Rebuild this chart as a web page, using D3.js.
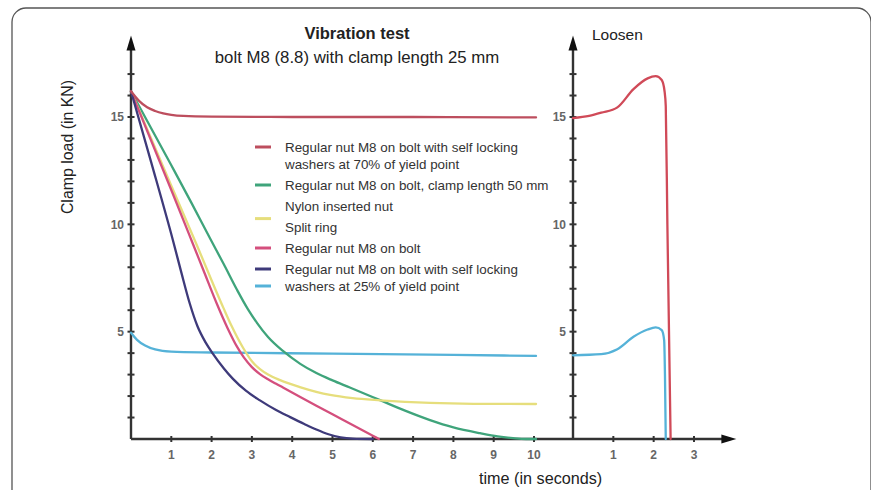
<!DOCTYPE html>
<html>
<head>
<meta charset="utf-8">
<script src="https://cdn.jsdelivr.net/npm/d3@7"></script>
<style>
  html, body { margin: 0; padding: 0; background: #fff; }
  svg { display: block; font-family: "Liberation Sans", Arial, sans-serif; }
</style>
</head>
<body>
<svg id="chart" width="871" height="490"></svg>
<script>
// Vibration test curves: [time (s), clamp load (kN)]
const washers70 = [[0,16.2],[0.2,15.75],[0.4,15.45],[0.6,15.28],[0.8,15.17],[1.0,15.1],[1.3,15.05],[2,15.02],[4,15.0],[7,15.0],[10.05,14.98]];
const clamp50 = [[0,16.2],[1,12.75],[1.5,11.0],[1.96,9.35],[2.3,8.15],[2.63,6.95],[2.9,6.05],[3.13,5.4],[3.4,4.75],[3.77,4.1],[4.2,3.5],[4.6,3.07],[5.0,2.73],[5.43,2.4],[6.18,1.81],[6.8,1.32],[7.42,0.88],[8.0,0.54],[8.66,0.27],[9.1,0.12],[9.48,0.04],[9.8,0],[10.05,0]];
const splitRing = [[0,16.2],[1,11.8],[1.64,9.0],[2.29,6.12],[2.5,5.25],[2.78,4.25],[3.0,3.62],[3.2,3.25],[3.4,3.0],[3.7,2.74],[4.19,2.42],[4.94,2.05],[5.5,1.9],[6.18,1.8],[7.42,1.68],[8.5,1.64],[10.05,1.63]];
const regularNut = [[0,16.2],[1,11.6],[1.5,9.26],[1.8,7.85],[2.13,6.3],[2.4,5.15],[2.63,4.3],[2.8,3.8],[3.0,3.35],[3.2,3.02],[3.4,2.78],[3.6,2.57],[3.77,2.4],[4.6,1.55],[5.0,1.15],[5.5,0.65],[6.0,0.15],[6.15,0]];
const lockingWasherNut = [[0,16.2],[0.5,12.9],[1.04,9.26],[1.25,7.75],[1.46,6.3],[1.65,5.25],[1.85,4.5],[2.03,3.98],[2.3,3.3],[2.53,2.8],[2.85,2.25],[3.2,1.8],[3.6,1.35],[3.95,1.02],[4.3,0.7],[4.6,0.44],[4.9,0.22],[5.2,0.08],[5.5,0.02],[6.0,0]];
const washers25 = [[0,4.95],[0.15,4.62],[0.35,4.35],[0.6,4.17],[1,4.07],[2,4.03],[5,3.98],[8,3.92],[10.05,3.87]];

// Loosening curves
const loosen70 = [[0,14.95],[0.4,15.05],[0.7,15.2],[1.1,15.45],[1.5,16.3],[1.85,16.8],[2.05,16.9],[2.2,16.72],[2.27,16.2],[2.3,15.5],[2.34,10],[2.42,0]];
const loosen25 = [[0,3.9],[0.7,3.95],[1.1,4.18],[1.5,4.76],[1.85,5.1],[2.05,5.2],[2.2,5.07],[2.26,4.6],[2.28,3.0],[2.3,0]];

const loadTicks = d3.range(1, 18);
const loadTickLabels = [5, 10, 15];
const timeTicks = d3.range(1, 11);
const loosenTimeTicks = [1, 2, 3];

const legendLines = [
  "Regular nut M8 on bolt with self locking",
  "washers at 70% of yield point",
  "Regular nut M8 on bolt, clamp length 50 mm",
  "Nylon inserted nut",
  "Split ring",
  "Regular nut M8 on bolt",
  "Regular nut M8 on bolt with self locking",
  "washers at 25% of yield point"
];
const legendContinued = [false, true, false, false, false, false, false, true];

const colors = {
  washers70: "#bd4e5e",
  clamp50: "#3fa47b",
  splitRing: "#e6de7c",
  regularNut: "#d44f7d",
  lockingWasherNut: "#3e3a7a",
  washers25: "#55b2d8"
};
// legend swatch: colour and the legend row it sits on
const legendSwatches = [
  { color: colors.washers70, row: 0 },
  { color: colors.clamp50, row: 2 },
  { color: colors.splitRing, row: 3.6 },
  { color: colors.regularNut, row: 5 },
  { color: colors.lockingWasherNut, row: 6 },
  { color: colors.washers25, row: 7 }
];

const svg = d3.select("#chart");

// frame
svg.append("rect")
  .attr("x", 12).attr("y", 8).attr("width", 859).attr("height", 520)
  .attr("rx", 14).attr("fill", "none").attr("stroke", "#555").attr("stroke-width", 1.3);

const y = d3.scaleLinear().domain([0, 15]).range([439, 117]);
const xL = d3.scaleLinear().domain([0, 10]).range([131, 534]);
const xR = d3.scaleLinear().domain([0, 3]).range([573, 694]);

const axisColor = "#333";
const yTop = 18.8;

// axis lines
const g = svg.append("g");
g.append("line").attr("x1", xL(0)).attr("x2", xL(0)).attr("y1", y(0)).attr("y2", y(yTop) + 6)
  .attr("stroke", axisColor).attr("stroke-width", 2.4);
g.append("line").attr("x1", xR(0)).attr("x2", xR(0)).attr("y1", y(0)).attr("y2", y(yTop) + 6)
  .attr("stroke", axisColor).attr("stroke-width", 2.4);
g.append("line").attr("x1", xL(0)).attr("x2", xR(4.05) - 6).attr("y1", y(0)).attr("y2", y(0))
  .attr("stroke", axisColor).attr("stroke-width", 2.4);

// arrowheads
function upArrow(x) {
  const t = y(yTop);
  return `M${x},${t} L${x - 4.5},${t + 15} L${x + 4.5},${t + 15} Z`;
}
g.append("path").attr("d", upArrow(xL(0))).attr("fill", "#111");
g.append("path").attr("d", upArrow(xR(0))).attr("fill", "#111");
const tipX = xR(4.05);
g.append("path").attr("d", `M${tipX},${y(0)} L${tipX - 15},${y(0) - 4.5} L${tipX - 15},${y(0) + 4.5} Z`).attr("fill", "#111");

// ticks on the load axes
[xL(0), xR(0)].forEach(ax => {
  g.selectAll(null).data(loadTicks).enter().append("line")
    .attr("x1", ax - 3.5).attr("x2", ax + 3.5)
    .attr("y1", d => y(d)).attr("y2", d => y(d))
    .attr("stroke", axisColor).attr("stroke-width", 2);
});
// ticks on the time axes
g.selectAll(null).data(timeTicks).enter().append("line")
  .attr("x1", d => xL(d)).attr("x2", d => xL(d))
  .attr("y1", y(0) - 3).attr("y2", y(0) + 3)
  .attr("stroke", axisColor).attr("stroke-width", 2);
g.selectAll(null).data(loosenTimeTicks).enter().append("line")
  .attr("x1", d => xR(d)).attr("x2", d => xR(d))
  .attr("y1", y(0) - 3).attr("y2", y(0) + 3)
  .attr("stroke", axisColor).attr("stroke-width", 2);

// tick labels
const tickStyle = sel => sel.attr("font-size", 12).attr("font-weight", "bold").attr("fill", "#666");
[xL(0), xR(0)].forEach(ax => {
  g.selectAll(null).data(loadTickLabels).enter().append("text")
    .attr("x", ax - 7).attr("y", d => y(d) + 4.3)
    .attr("text-anchor", "end").text(d => d).call(tickStyle);
});
g.selectAll(null).data(timeTicks).enter().append("text")
  .attr("x", d => xL(d)).attr("y", y(0) + 20)
  .attr("text-anchor", "middle").text(d => d).call(tickStyle);
g.selectAll(null).data(loosenTimeTicks).enter().append("text")
  .attr("x", d => xR(d)).attr("y", y(0) + 20)
  .attr("text-anchor", "middle").text(d => d).call(tickStyle);

// curves
const lineL = d3.line().x(d => xL(d[0])).y(d => y(d[1])).curve(d3.curveMonotoneX);
const lineR = d3.line().x(d => xR(d[0])).y(d => y(d[1])).curve(d3.curveMonotoneX);
const curves = svg.append("g").attr("fill", "none").attr("stroke-width", 2.3)
  .attr("stroke-linejoin", "round").attr("stroke-linecap", "round");
[
  [washers25, colors.washers25],
  [clamp50, colors.clamp50],
  [splitRing, colors.splitRing],
  [regularNut, colors.regularNut],
  [lockingWasherNut, colors.lockingWasherNut],
  [washers70, colors.washers70]
].forEach(([data, c]) => curves.append("path").attr("d", lineL(data)).attr("stroke", c));
curves.append("path").attr("d", lineR(loosen25)).attr("stroke", colors.washers25);
curves.append("path").attr("d", lineR(loosen70)).attr("stroke", "#d04a58");

// legend
const rowBase = [];
legendLines.forEach((_, i) => {
  rowBase.push(i === 0 ? 152 : rowBase[i - 1] + (legendContinued[i] ? 17 : 21));
});
const legend = svg.append("g");
legend.selectAll(null).data(legendLines).enter().append("text")
  .attr("x", 285).attr("y", (d, i) => rowBase[i])
  .attr("font-size", 13.4).attr("fill", "#333").text(d => d);
const rowY = r => {
  const i = Math.floor(r), f = r - i;
  const b = f > 0 ? rowBase[i] + (rowBase[i + 1] - rowBase[i]) * f : rowBase[i];
  return b - 5;
};
legend.selectAll(null).data(legendSwatches).enter().append("line")
  .attr("x1", 255).attr("x2", 271)
  .attr("y1", d => rowY(d.row)).attr("y2", d => rowY(d.row))
  .attr("stroke", d => d.color).attr("stroke-width", 3);

// titles and axis labels
svg.append("text").attr("x", 357).attr("y", 39).attr("text-anchor", "middle")
  .attr("font-size", 16.5).attr("font-weight", "bold").attr("fill", "#222").text("Vibration test");
svg.append("text").attr("x", 357).attr("y", 63).attr("text-anchor", "middle")
  .attr("font-size", 16.8).attr("fill", "#222").text("bolt M8 (8.8) with clamp length 25 mm");
svg.append("text").attr("x", 592).attr("y", 40)
  .attr("font-size", 15.5).attr("fill", "#222").text("Loosen");
svg.append("text").attr("transform", "translate(73,147) rotate(-90)").attr("text-anchor", "middle")
  .attr("font-size", 15.9).attr("fill", "#222").text("Clamp load (in KN)");
svg.append("text").attr("x", 479).attr("y", 484)
  .attr("font-size", 16.2).attr("fill", "#222").text("time (in seconds)");
</script>
</body>
</html>
